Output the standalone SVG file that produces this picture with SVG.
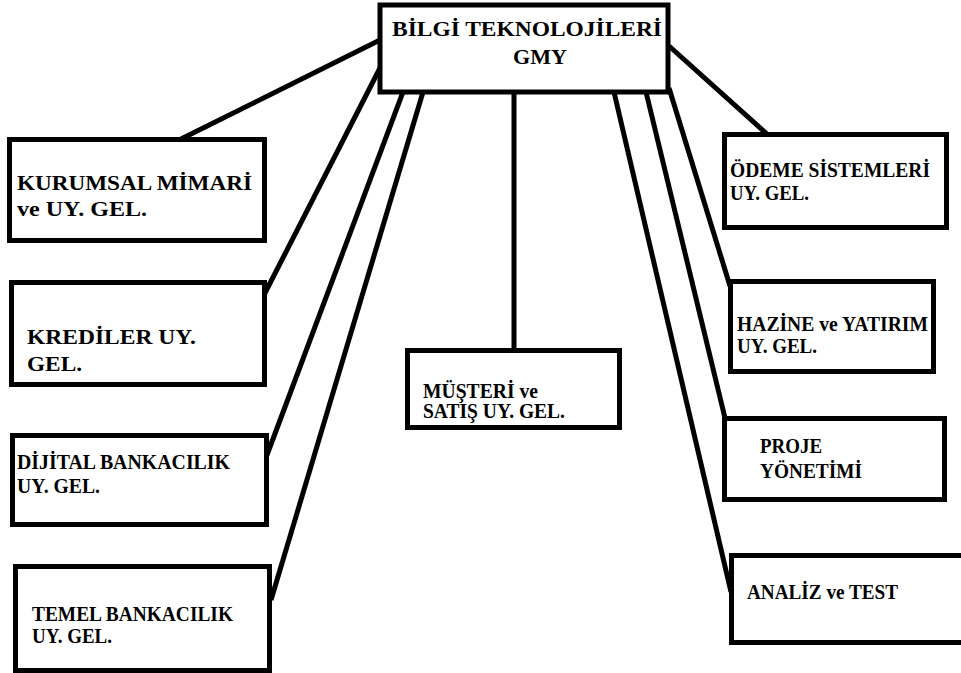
<svg xmlns="http://www.w3.org/2000/svg" width="961" height="673" viewBox="0 0 961 673">
  <style>
    .box { fill: #ffffff; stroke: #000000; stroke-width: 5; }
    .link { stroke: #000000; stroke-width: 5; fill: none; }
    text { font-family: 'Liberation Serif', 'DejaVu Serif', serif; font-weight: 700; font-size: 20px; fill: #000000; }
  </style>
  <rect width="961" height="673" fill="#ffffff"/>

  <!-- connectors from the head office to each unit -->
  <g id="connectors">
    <line class="link" x1="380" y1="40" x2="181" y2="139"/>
    <line class="link" x1="380" y1="68" x2="265" y2="293"/>
    <line class="link" x1="403" y1="92" x2="267" y2="455"/>
    <line class="link" x1="423" y1="92" x2="271" y2="600"/>
    <line class="link" x1="514" y1="92" x2="514" y2="350"/>
    <line class="link" x1="614" y1="92" x2="731" y2="592"/>
    <line class="link" x1="646" y1="92" x2="725" y2="418"/>
    <line class="link" x1="669" y1="88" x2="730" y2="286"/>
    <line class="link" x1="669" y1="46" x2="767" y2="134"/>
  </g>

  <g id="gmy">
    <rect class="box" x="380" y="5" width="288" height="87"/>
    <text x="392" y="36" font-size="21" textLength="270" lengthAdjust="spacingAndGlyphs">BİLGİ TEKNOLOJİLERİ</text>
    <text x="513" y="64" font-size="21" textLength="54" lengthAdjust="spacingAndGlyphs">GMY</text>
  </g>

  <g id="kurumsal-mimari">
    <rect class="box" x="9.5" y="139.5" width="255" height="101"/>
    <text x="17" y="190" font-size="21" textLength="235" lengthAdjust="spacingAndGlyphs">KURUMSAL MİMARİ</text>
    <text x="17" y="216" font-size="21" textLength="130" lengthAdjust="spacingAndGlyphs">ve UY. GEL.</text>
  </g>

  <g id="krediler">
    <rect class="box" x="11.5" y="282.5" width="253" height="102"/>
    <text x="27" y="344" font-size="21" textLength="169" lengthAdjust="spacingAndGlyphs">KREDİLER UY.</text>
    <text x="27" y="371" font-size="21" textLength="55" lengthAdjust="spacingAndGlyphs">GEL.</text>
  </g>

  <g id="dijital-bankacilik">
    <rect class="box" x="12.5" y="435.5" width="254" height="89"/>
    <text x="17" y="469" textLength="213" lengthAdjust="spacingAndGlyphs">DİJİTAL BANKACILIK</text>
    <text x="17" y="493" textLength="83" lengthAdjust="spacingAndGlyphs">UY. GEL.</text>
  </g>

  <g id="temel-bankacilik">
    <rect class="box" x="15.5" y="566.5" width="254" height="104"/>
    <text x="32" y="621" textLength="201" lengthAdjust="spacingAndGlyphs">TEMEL BANKACILIK</text>
    <text x="32" y="643" textLength="80" lengthAdjust="spacingAndGlyphs">UY. GEL.</text>
  </g>

  <g id="musteri-satis">
    <rect class="box" x="407.5" y="350.5" width="212" height="77"/>
    <text x="423" y="398" textLength="115" lengthAdjust="spacingAndGlyphs">MÜŞTERİ ve</text>
    <text x="423" y="418" textLength="142" lengthAdjust="spacingAndGlyphs">SATIŞ UY. GEL.</text>
  </g>

  <g id="odeme-sistemleri">
    <rect class="box" x="724.5" y="134.5" width="222" height="93"/>
    <text x="730" y="177" textLength="200" lengthAdjust="spacingAndGlyphs">ÖDEME SİSTEMLERİ</text>
    <text x="730" y="200" textLength="79" lengthAdjust="spacingAndGlyphs">UY. GEL.</text>
  </g>

  <g id="hazine-yatirim">
    <rect class="box" x="730.5" y="281.5" width="203" height="90"/>
    <text x="737" y="331" textLength="191" lengthAdjust="spacingAndGlyphs">HAZİNE ve YATIRIM</text>
    <text x="737" y="353" textLength="80" lengthAdjust="spacingAndGlyphs">UY. GEL.</text>
  </g>

  <g id="proje-yonetimi">
    <rect class="box" x="724.5" y="418.5" width="220" height="81"/>
    <text x="760" y="453" textLength="62" lengthAdjust="spacingAndGlyphs">PROJE</text>
    <text x="760" y="478" textLength="102" lengthAdjust="spacingAndGlyphs">YÖNETİMİ</text>
  </g>

  <g id="analiz-test">
    <rect class="box" x="731.5" y="555.5" width="240" height="87"/>
    <text x="747" y="599" textLength="151" lengthAdjust="spacingAndGlyphs">ANALİZ ve TEST</text>
  </g>
</svg>
